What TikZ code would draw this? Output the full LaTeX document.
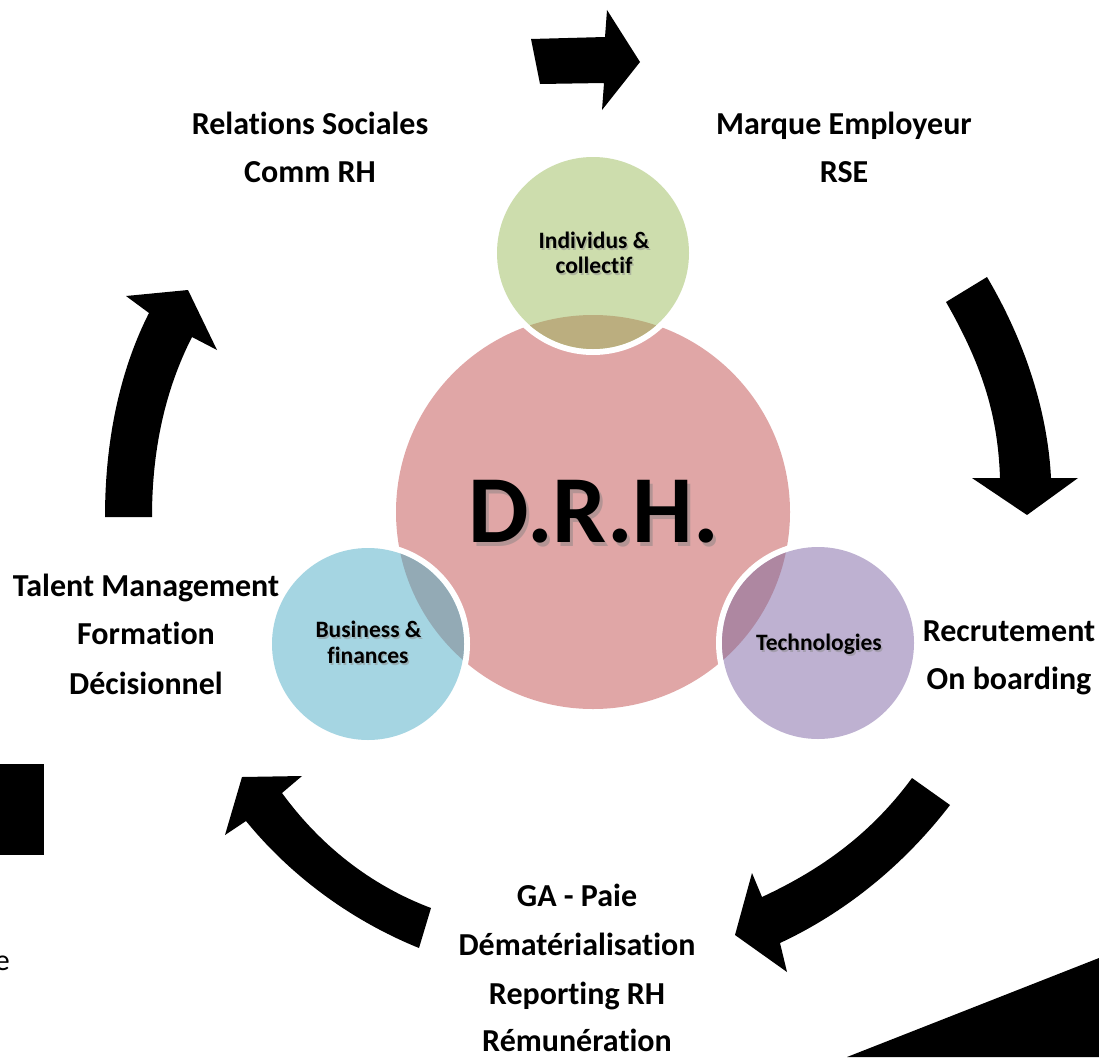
\documentclass[tikz,border=0pt]{standalone}
\usepackage{fontspec}
\setmainfont{Carlito}[Ligatures=NoCommon]
\definecolor{drhpink}{HTML}{E0A6A6}
\definecolor{indgreen}{HTML}{CDDDAD}
\definecolor{busblue}{HTML}{A5D5E2}
\definecolor{techpurple}{HTML}{BEB1D1}
\definecolor{ovgreen}{HTML}{BBAE7F}
\definecolor{ovblue}{HTML}{93AAB5}
\definecolor{ovpurple}{HTML}{AE87A1}
\tikzset{
  bigdisc/.style={circle,inner sep=0pt,minimum size=394pt,fill=drhpink},
  smalldisc/.style={circle,inner sep=0pt,minimum size=192pt},
  whitering/.style={circle,inner sep=0pt,minimum size=204pt,fill=white},
  lbl/.style={font=\fontsize{32}{32}\bfseries\selectfont,anchor=base,inner sep=0pt},
  clbl/.style={font=\fontsize{23.5}{23.5}\bfseries\selectfont,anchor=base,inner sep=0pt},
  clblshadow/.style={clbl,text=black!45,opacity=0.5},
  blockarrow/.style={fill=black}
}
\begin{document}
\begin{tikzpicture}[x=1pt,y=-1pt]
\useasboundingbox (0,0) rectangle (1099,1057);
\fill[white] (0,0) rectangle (1099,1057);

% big centre disc
\node[bigdisc] (drh) at (593,512) {};

% white rings of the small discs
\node[whitering] at (593,253) {};
\node[whitering] at (368,644) {};
\node[whitering] at (818,643) {};

% small discs
\node[smalldisc,fill=indgreen] (ind) at (593,253) {};
\node[smalldisc,fill=busblue] (bus) at (368,644) {};
\node[smalldisc,fill=techpurple] (tech) at (818,643) {};

% overlaps
\begin{scope}
  \clip (593,253) circle[radius=96pt];
  \fill[ovgreen] (593,512) circle[radius=197pt];
\end{scope}
\begin{scope}
  \clip (368,644) circle[radius=96pt];
  \fill[ovblue] (593,512) circle[radius=197pt];
\end{scope}
\begin{scope}
  \clip (818,643) circle[radius=96pt];
  \fill[ovpurple] (593,512) circle[radius=197pt];
\end{scope}

% D.R.H.
\node[anchor=base,inner sep=0pt,text=black!50,opacity=0.45,font=\fontsize{96}{96}\bfseries\selectfont] at (597,546) {D.R.H.};
\node[anchor=base,inner sep=0pt,font=\fontsize{96}{96}\bfseries\selectfont] (drhtext) at (594,542) {D.R.H.};

% circle labels
\node[clblshadow] at (595.5,250) {Individus \&};
\node[clbl] (ind1) at (594,248) {Individus \&};
\node[clblshadow] at (595.5,275) {collectif};
\node[clbl] (ind2) at (594,273) {collectif};
\node[clblshadow] at (370,639) {Business \&};
\node[clbl] (bus1) at (368.5,637) {Business \&};
\node[clblshadow] at (369.5,665) {finances};
\node[clbl] (bus2) at (368,663) {finances};
\node[clblshadow] at (820.5,652) {Technologies};
\node[clbl] (tech1) at (819,650) {Technologies};

% outer labels
\node[lbl] (rs1) at (310,134) {Relations Sociales};
\node[lbl] (rs2) at (310,182) {Comm RH};
\node[lbl] (me1) at (844,134) {Marque Employeur};
\node[lbl] (me2) at (844,182) {RSE};
\node[lbl] (rc1) at (1009,641) {Recrutement};
\node[lbl] (rc2) at (1009,689) {On boarding};
\node[lbl] (ga1) at (577,906) {GA - Paie};
\node[lbl] (ga2) at (577,955) {Dématérialisation};
\node[lbl] (ga3) at (577,1004) {Reporting RH};
\node[lbl] (ga4) at (577,1051) {Rémunération};
\node[lbl] (tm1) at (146,596) {Talent Management};
\node[lbl] (tm2) at (146,644) {Formation};
\node[lbl] (tm3) at (146,694) {Décisionnel};
\node[anchor=base east,inner sep=0pt,font=\fontsize{30}{30}\selectfont] (cut) at (10,970) {e};

% block arrows
\fill[blockarrow] (531,39) -- (605,37) -- (607,10) -- (640,62) -- (602,110) -- (604,83) -- (540,84) -- cycle;
\fill[blockarrow] (946,302) -- (987,277) .. controls (1030,350) and (1048,420) .. (1051,478)
  -- (1078,478) -- (1027,515) -- (972,478) -- (1000,478)
  .. controls (998,420) and (985,370) .. (946,302) -- cycle;
\fill[blockarrow] (912,778) -- (950,805) .. controls (900,870) and (840,915) .. (780,943)
  -- (787,972) -- (735,935) -- (752,873) -- (762,897)
  .. controls (820,870) and (870,835) .. (912,778) -- cycle;
\fill[blockarrow] (242,777) -- (302,776) -- (282,793) .. controls (320,845) and (370,885) .. (431,908)
  -- (419,948) .. controls (350,920) and (290,875) .. (246,821) -- (225,835) -- cycle;
\fill[blockarrow] (126,296) -- (188,290) -- (217,350) -- (192,337)
  .. controls (165,390) and (152,450) .. (152,517) -- (105,517)
  .. controls (105,440) and (120,370) .. (149,313) -- cycle;

% black shapes at the edges
\fill[black] (0,764) rectangle (44,855);
\fill[black] (847,1057) -- (1099,958) -- (1099,1057) -- cycle;
\end{tikzpicture}
\end{document}
